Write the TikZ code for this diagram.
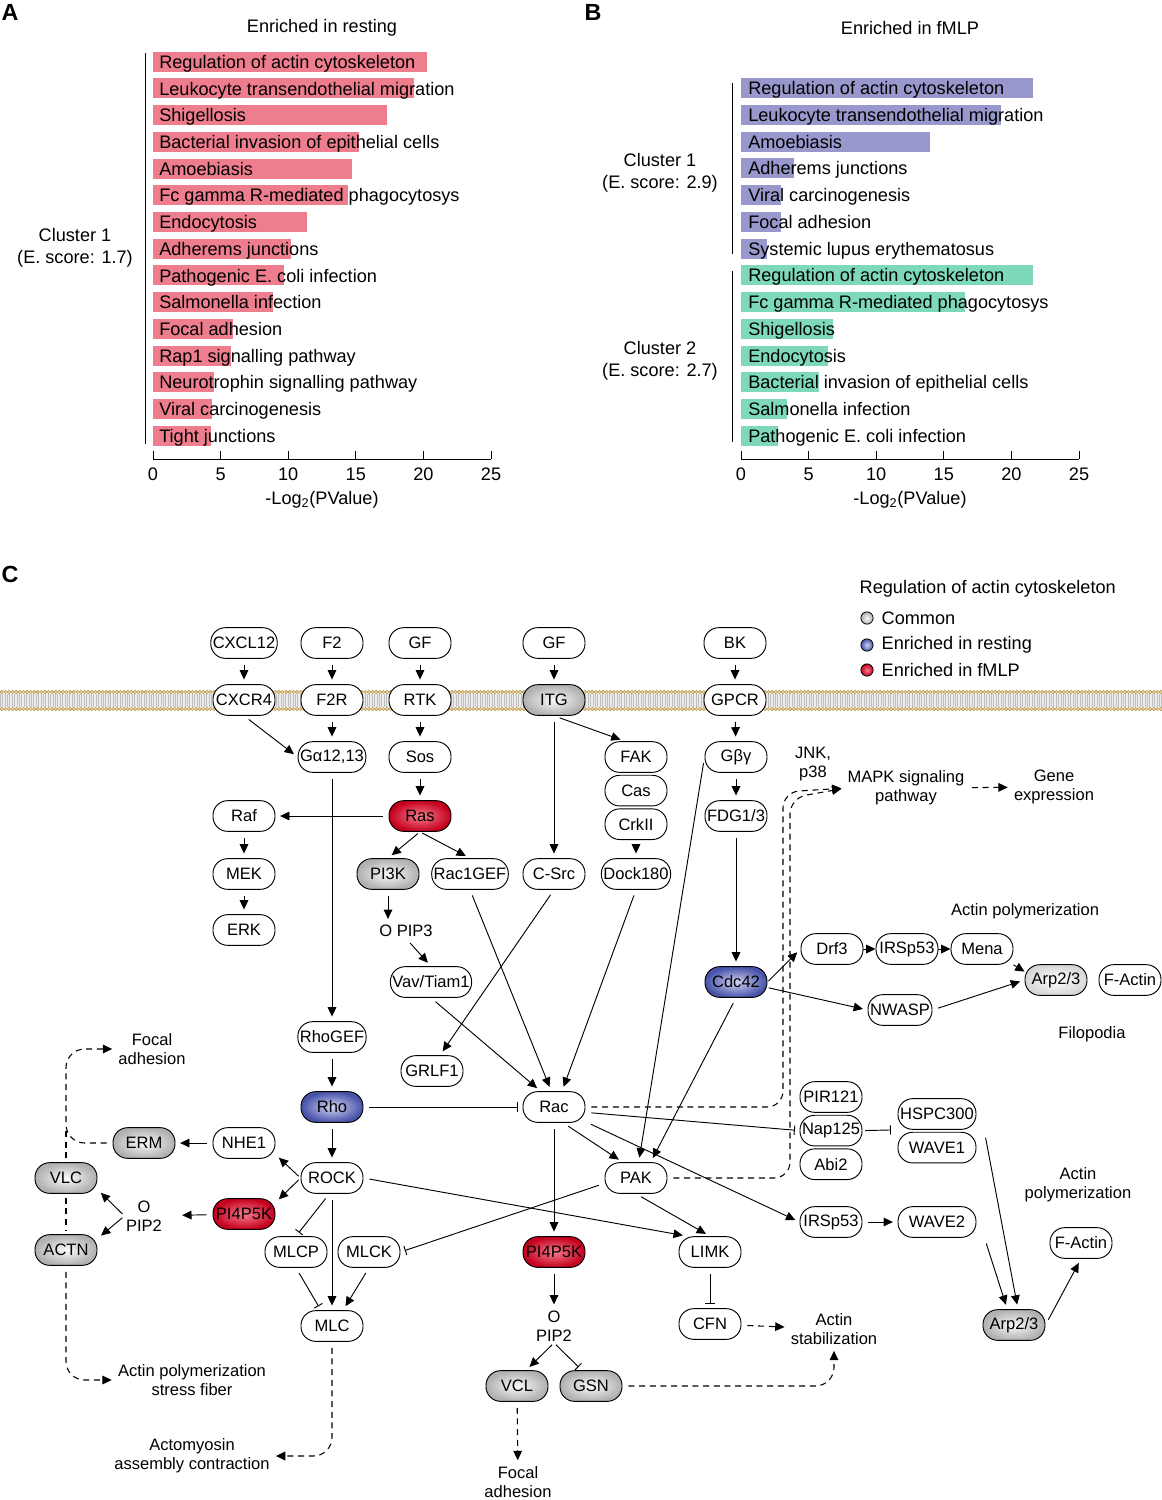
\documentclass[tikz,border=0pt]{standalone}
\usepackage{fontspec}
\setmainfont{Liberation Sans}
\usepackage{tikz}
\usetikzlibrary{arrows.meta,positioning}

\definecolor{barrest}{RGB}{238,125,142}
\definecolor{barfmlpa}{RGB}{152,152,204}
\definecolor{barfmlpb}{RGB}{126,216,188}
\definecolor{lipidline}{RGB}{180,145,70}
\definecolor{lipidfill}{RGB}{236,218,165}
\definecolor{redin}{RGB}{246,125,140}
\definecolor{redout}{RGB}{196,0,30}
\definecolor{bluein}{RGB}{208,212,242}
\definecolor{blueout}{RGB}{72,82,168}

\newcommand{\barfont}{\fontsize{13.6}{16.3}\selectfont}
\newcommand{\pwfont}{\fontsize{12.4}{14.3}\selectfont}
\newcommand{\panelfont}{\fontsize{17.5}{20}\selectfont\bfseries}

\begin{document}
\begin{tikzpicture}[
    x=0.75pt, y=-0.75pt,
    gene/.style={draw, line width=0.7pt, fill=white, rounded corners=11pt,
      minimum width=46.5pt, minimum height=23pt, inner sep=1.5pt, font=\pwfont},
    common/.style={gene, inner color=gray!4, outer color=gray!62},
    resting/.style={gene, inner color=bluein, outer color=blueout},
    fmlp/.style={gene, inner color=redin, outer color=redout},
    wide/.style={minimum width=58.5pt},
    txt/.style={font=\pwfont, align=center, inner sep=1pt},
    act/.style={-{Triangle[length=7pt,width=6.5pt]}, line width=0.7pt,
      shorten <=4.5pt, shorten >=3.5pt},
    inh/.style={-{Bar[width=7pt]}, line width=0.7pt,
      shorten <=4.5pt, shorten >=3.5pt},
    dact/.style={act, line width=0.8pt, dash pattern=on 4.5pt off 3.5pt},
    dline/.style={line width=0.8pt, dash pattern=on 4.5pt off 3.5pt},
    barlabel/.style={font=\barfont, anchor=base west, inner sep=0pt}
  ]
  \useasboundingbox (0,0) rectangle (1162,1500);

  % Panel A
  \node[font=\panelfont] at (10,12) {A};
  \node[font=\barfont] at (322,28) {Enriched in resting};
  \foreach \lab/\val [count=\i from 0] in {
      Regulation of actin cytoskeleton/20.3,
      Leukocyte transendothelial migration/19.3,
      Shigellosis/17.3,
      Bacterial invasion of epithelial cells/15.2,
      Amoebiasis/14.7,
      Fc gamma R-mediated phagocytosys/14.4,
      Endocytosis/11.4,
      Adherems junctions/10.2,
      Pathogenic E. coli infection/9.7,
      Salmonella infection/8.9,
      Focal adhesion/5.9,
      Rap1 signalling pathway/5.8,
      Neurotrophin signalling pathway/4.5,
      Viral carcinogenesis/4.4,
      Tight junctions/4.3} {
    \fill[barrest] (153,{51.7+26.72*\i}) rectangle ({153+13.52*\val},{71.7+26.72*\i});
    \node[barlabel] at (159,{68.3+26.72*\i}) {\lab};
  }
  \draw[line width=0.7pt] (145,53) -- (145,444);
  \node[font=\barfont, align=center] at (75,248) {Cluster 1\\(E. score: 1.7)};
  \draw[line width=0.7pt] (153,459) -- (491,459);
  \foreach \tk [count=\k from 0] in {0,5,...,25} {
    \draw[line width=0.7pt] ({153+67.6*\k},451) -- ({153+67.6*\k},459);
    \node[font=\barfont] at ({153+67.6*\k},474) {\tk};
  }
  \node[font=\barfont] at (322,500) {-Log\textsubscript{2}(PValue)};

  % Panel B
  \node[font=\panelfont] at (593,12) {B};
  \node[font=\barfont] at (910,28) {Enriched in fMLP};
  \foreach \lab/\val/\col [count=\i from 0] in {
      Regulation of actin cytoskeleton/21.6/barfmlpa,
      Leukocyte transendothelial migration/19.2/barfmlpa,
      Amoebiasis/14.0/barfmlpa,
      Adherems junctions/3.9/barfmlpa,
      Viral carcinogenesis/2.95/barfmlpa,
      Focal adhesion/2.95/barfmlpa,
      Systemic lupus erythematosus/1.95/barfmlpa,
      Regulation of actin cytoskeleton/21.6/barfmlpb,
      Fc gamma R-mediated phagocytosys/16.6/barfmlpb,
      Shigellosis/6.8/barfmlpb,
      Endocytosis/6.4/barfmlpb,
      Bacterial invasion of epithelial cells/5.8/barfmlpb,
      Salmonella infection/3.4/barfmlpb,
      Pathogenic E. coli infection/2.7/barfmlpb} {
    \fill[\col] (741,{78+26.75*\i}) rectangle ({741+13.52*\val},{98+26.75*\i});
    \node[barlabel] at (748,{94.6+26.75*\i}) {\lab};
  }
  \draw[line width=0.7pt] (732,83) -- (732,254);
  \draw[line width=0.7pt] (732,271) -- (732,442);
  \node[font=\barfont, align=center] at (660,173) {Cluster 1\\(E. score: 2.9)};
  \node[font=\barfont, align=center] at (660,361) {Cluster 2\\(E. score: 2.7)};
  \draw[line width=0.7pt] (741,459) -- (1079,459);
  \foreach \tk [count=\k from 0] in {0,5,...,25} {
    \draw[line width=0.7pt] ({741+67.6*\k},451) -- ({741+67.6*\k},459);
    \node[font=\barfont] at ({741+67.6*\k},474) {\tk};
  }
  \node[font=\barfont] at (910,500) {-Log\textsubscript{2}(PValue)};

  % Panel C
  \node[font=\panelfont] at (10,574) {C};

  % Legend
  \node[font=\barfont, anchor=west] at (855,589) {Regulation of actin cytoskeleton};
  \foreach \y/\ci/\co/\lab in {618/gray!4/gray!62/Common,
      645/bluein/blueout/Enriched in resting,
      670/redin/redout/Enriched in fMLP} {
    \draw[line width=0.6pt, inner color=\ci, outer color=\co] (867,\y) circle[radius=4.6pt];
    \node[font=\barfont, anchor=west] at (877,\y) {\lab};
  }

  % Membrane
  \fill[gray!15] (0,694) rectangle (1162,707);
  \foreach \x in {0,2.4,...,1162}
    \draw[gray!50, line width=0.35pt] (\x,694) -- (\x,707);
  \foreach \x in {1.8,5.4,...,1162} {
    \draw[lipidline, fill=lipidfill, line width=0.35pt] (\x,692) circle[radius=1.3pt];
    \draw[lipidline, fill=lipidfill, line width=0.35pt] (\x,709) circle[radius=1.3pt];
  }

  % Nodes: ligands and receptors
  \node[gene] (cxcl) at (244,643) {CXCL12};
  \node[gene] (f2) at (332,643) {F2};
  \node[gene] (gfa) at (420,643) {GF};
  \node[gene] (gfb) at (554,643) {GF};
  \node[gene] (bk) at (735,643) {BK};
  \node[gene] (cxcr) at (244,700) {CXCR4};
  \node[gene] (f2r) at (332,700) {F2R};
  \node[gene] (rtk) at (420,700) {RTK};
  \node[common] (itg) at (554,700) {ITG};
  \node[gene] (gpcr) at (735,700) {GPCR};

  % Nodes: cytoplasm
  \node[gene] (ga) at (332,757) {Gα12,13};
  \node[gene] (sos) at (420,757) {Sos};
  \node[gene] (fak) at (636,757) {FAK};
  \node[gene, below=1.5pt of fak] (cas) {Cas};
  \node[gene, below=1.5pt of cas] (crk) {CrkII};
  \node[gene] (gby) at (736,757) {Gβγ};
  \node[gene] (raf) at (244,816) {Raf};
  \node[fmlp] (ras) at (420,816) {Ras};
  \node[gene] (fdg) at (736,816) {FDG1/3};
  \node[gene] (mek) at (244,874) {MEK};
  \node[common] (pik) at (388,874) {PI3K};
  \node[gene] (racgef) at (470,874) {Rac1GEF};
  \node[gene] (csrc) at (554,874) {C-Src};
  \node[gene] (dock) at (636,874) {Dock180};
  \node[gene] (erk) at (244,930) {ERK};
  \node[txt] (pip3) at (406,931) {O PIP3};
  \node[gene] (vav) at (431,982) {Vav/Tiam1};
  \node[resting] (cdc) at (736,982) {Cdc42};
  \node[gene] (drf) at (832,949) {Drf3};
  \node[gene] (irsa) at (907,949) {IRSp53};
  \node[gene] (mena) at (982,949) {Mena};
  \node[common, inner color=white, outer color=gray!32] (arpa) at (1056,980) {Arp2/3};
  \node[gene] (facta) at (1130,980) {F-Actin};
  \node[gene] (nwasp) at (900,1010) {NWASP};
  \node[txt] at (1025,911) {Actin polymerization};
  \node[txt] at (1092,1034) {Filopodia};
  \node[gene] (rhogef) at (332,1037) {RhoGEF};
  \node[gene] (grlf) at (432,1071) {GRLF1};
  \node[txt] (focala) at (152,1049) {Focal\\adhesion};
  \node[resting] (rho) at (332,1107) {Rho};
  \node[gene] (rac) at (554,1107) {Rac};
  \node[gene] (pir) at (831,1097) {PIR121};
  \node[gene, below=1.5pt of pir] (nap) {Nap125};
  \node[gene, below=1.5pt of nap] (abi) {Abi2};
  \node[gene, wide] (hspc) at (937,1114) {HSPC300};
  \node[gene, wide, below=1.5pt of hspc] (wavea) {WAVE1};
  \node[common] (erm) at (144,1143) {ERM};
  \node[gene] (nhe) at (244,1143) {NHE1};
  \node[common] (vlc) at (66,1178) {VLC};
  \node[gene] (rock) at (332,1178) {ROCK};
  \node[gene] (pak) at (636,1178) {PAK};
  \node[txt] at (1078,1185) {Actin\\polymerization};
  \node[txt] (pipa) at (144,1216) {O\\PIP2};
  \node[fmlp] (pika) at (244,1214) {PI4P5K};
  \node[gene] (irsb) at (831,1222) {IRSp53};
  \node[gene, wide] (waveb) at (937,1222) {WAVE2};
  \node[common] (actn) at (66,1250) {ACTN};
  \node[gene] (mlcp) at (296,1252) {MLCP};
  \node[gene] (mlck) at (369,1252) {MLCK};
  \node[fmlp] (pikb) at (554,1252) {PI4P5K};
  \node[gene] (limk) at (710,1252) {LIMK};
  \node[gene] (factb) at (1081,1243) {F-Actin};
  \node[gene] (mlc) at (332,1326) {MLC};
  \node[txt] (pipb) at (554,1326) {O\\PIP2};
  \node[gene] (cfn) at (710,1324) {CFN};
  \node[txt] (stab) at (834,1329) {Actin\\stabilization};
  \node[common] (arpb) at (1014,1325) {Arp2/3};
  \node[txt] (stress) at (192,1380) {Actin polymerization\\stress fiber};
  \node[common] (vcl) at (517,1386) {VCL};
  \node[common] (gsn) at (591,1386) {GSN};
  \node[txt] (acto) at (192,1456) {Actomyosin\\assembly contraction};
  \node[txt] (focalb) at (518,1482) {Focal\\adhesion};
  \node[txt] (jnk) at (813,764) {JNK,\\p38};
  \node[txt] (mapk) at (906,788) {MAPK signaling\\pathway};
  \node[txt] (geneexp) at (1054,787) {Gene\\expression};

  % Edges: straight activations
  \foreach \a/\b in {cxcl/cxcr, f2/f2r, gfa/rtk, gfb/itg, bk/gpcr,
      f2r/ga, rtk/sos, sos/ras, gpcr/gby, gby/fdg, ras/raf, raf/mek, mek/erk,
      crk/dock, itg/csrc, ga/rhogef, rhogef/rho, rho/rock, fdg/cdc,
      rock/mlc, rac/pikb, pikb/pipb, nhe/erm, irsb/waveb}
    \draw[act] (\a) -- (\b);

  % Edges: upper part
  \draw[act] (cxcr.south) -- (ga.west);
  \draw[act, shorten <=2pt] (ras.south) -- (pik.north);
  \draw[act, shorten <=2pt] (ras.south) -- (racgef.north);
  \draw[act] (itg.south) -- (fak.125);
  \draw[act] (pik.south) -- (pik.south |- pip3.north);
  \draw[act] (pip3.south) -- (vav.north);
  \draw[act] (vav.south) -- ([xshift=-10pt]rac.north);
  \draw[act] (racgef.south) -- ([xshift=-2pt]rac.north);
  \draw[act] (dock.south) -- ([xshift=6pt]rac.north);
  \draw[act] (csrc.south) -- ([xshift=6pt]grlf.north);
  \draw[inh] (rho) -- (rac);
  \draw[act] (gby.west) -- ([xshift=2pt]pak.north);
  \draw[act] (cdc.south) -- ([xshift=11pt]pak.north);

  % Edges: Cdc42 branch
  \draw[act, shorten <=1pt] (cdc.east) -- (drf.west);
  \draw[act, shorten <=1pt] (cdc.-10) -- (nwasp.west);
  \draw[act, shorten <=0pt, shorten >=0pt] (drf) -- (irsa);
  \draw[act, shorten <=0pt, shorten >=0pt] (irsa) -- (mena);
  \draw[act, shorten <=0pt, shorten >=0pt] (mena.south east) -- (arpa.165);
  \draw[act] (nwasp.east) -- (arpa.west);

  % Edges: Rac and PAK
  \draw[inh] ([yshift=-4pt]rac.east) -- (nap.west);
  \draw[inh, shorten <=2pt, shorten >=5pt] (nap.east) -- (hspc.south west);
  \draw[act] (rac.-60) -- (pak.130);
  \draw[act] (rac.-25) -- (irsb.west);
  \draw[inh] ([yshift=-4pt]pak.west) -- (mlck.east);
  \draw[act] (pak.south) -- (limk.north);
  \draw[act] (rock.east) -- (limk.145);
  \draw[inh] (limk) -- (cfn);
  \draw[act] ([xshift=6pt]wavea.north east) -- ([xshift=3pt]arpb.north);
  \draw[act] ([xshift=6pt]waveb.south east) -- ([xshift=-5pt]arpb.north);
  \draw[act] (arpb.east) -- (factb.south);

  % Edges: Rho branch
  \draw[act, shorten <=2pt] (rock.west) -- (nhe.-20);
  \draw[act, shorten <=2pt] (rock.west) -- (pika.20);
  \draw[act, shorten >=14pt] (pika) -- (pipa);
  \draw[act, shorten <=2pt] (pipa.west) -- (vlc.-20);
  \draw[act, shorten <=2pt] (pipa.west) -- (actn.20);
  \draw[inh] ([xshift=-2pt]rock.south) -- (mlcp.north);
  \draw[inh] (mlcp.south) -- (mlc.125);
  \draw[act] (mlck.south) -- (mlc.55);
  \draw[act, shorten <=2pt] (pipb.south) -- (vcl.60);
  \draw[inh, shorten <=2pt] (pipb.south) -- (gsn.120);

  % Edges: dashed outcomes
  \draw[dact, rounded corners=12pt] (rac.east) -- (783,1107) -- (783,792) -- (mapk.west);
  \draw[dact, rounded corners=12pt] (pak.east) -- (790,1178) -- (790,798) -- (mapk.west);
  \draw[dact] (mapk) -- (geneexp);
  \draw[dact, rounded corners=14pt] (erm.west) -- (vlc |- erm) -- (vlc |- focala) -- (focala.west);
  \draw[dline, shorten <=3pt] (vlc) -- (vlc |- erm.north);
  \draw[dline, shorten <=3pt, shorten >=3pt] (vlc) -- (actn);
  \draw[dact, rounded corners=14pt] (actn.south) |- (stress.west);
  \draw[dact, rounded corners=14pt] (mlc.south) |- (acto.east);
  \draw[dact] (cfn) -- (stab);
  \draw[dact] (vcl) -- (focalb);
  \draw[dact, rounded corners=14pt] (gsn.east) -| (stab.south);

\end{tikzpicture}
\end{document}
